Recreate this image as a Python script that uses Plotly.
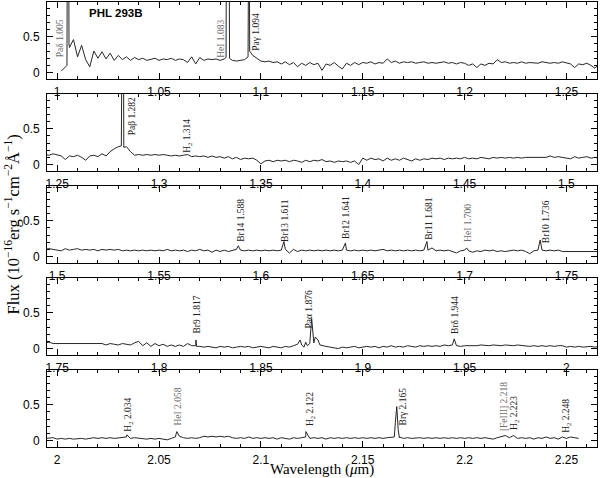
import numpy as np
import plotly.graph_objects as go

# ---------------- data ----------------
step = 0.002  # micron grid spacing of the continuum samples

start_A = 1.002
flux_A = [0.02, 0.08, 0.35, 0.46, 0.22, 0.38, 0.18, 0.08, 0.30, 0.20,
          0.29, 0.19, 0.27, 0.17, 0.24, 0.18, 0.22, 0.17, 0.21, 0.18,
          0.20, 0.17, 0.19, 0.20, 0.17, 0.19, 0.18, 0.20, 0.17, 0.19,
          0.18, 0.14, 0.22, 0.12, 0.21, 0.17, 0.19, 0.18, 0.19, 0.17,
          0.19, 3.00, 0.17, 0.16, 0.17, 0.18, 3.00, 0.24, 0.20, 0.16,
          0.15, 0.16, 0.14, 0.15, 0.12, 0.15, 0.11, 0.14, 0.08, 0.13,
          0.10, 0.14, 0.11, 0.13, 0.03, 0.12, 0.10, 0.14, 0.09, 0.05,
          0.13, 0.10, 0.14, 0.11, 0.14, 0.13, 0.15, 0.12, 0.14, 0.13,
          0.19, 0.14, 0.16, 0.13, 0.15, 0.14, 0.15, 0.13, 0.14, 0.15,
          0.13, 0.14, 0.13, 0.14, 0.15, 0.13, 0.14, 0.12, 0.14, 0.13,
          0.10, 0.12, 0.07, 0.12, 0.10, 0.13, 0.12, 0.18, 0.14, 0.15,
          0.13, 0.14, 0.13, 0.15, 0.13, 0.14, 0.14, 0.13, 0.15, 0.14,
          0.13, 0.14, 0.13, 0.15]

start_B = 1.250
flux_B = [0.14, 0.12, 0.07, 0.12, 0.11, 0.13, 0.10, 0.06, 0.12, 0.13,
          0.11, 0.15, 0.12, 0.18, 0.22, 0.25, 3.00, 0.25, 0.18, 0.13,
          0.14, 0.13, 0.14, 0.13, 0.14, 0.13, 0.14, 0.13, 0.12, 0.13,
          0.12, 0.13, 0.14, 0.11, 0.12, 0.11, 0.12, 0.10, 0.12, 0.10,
          0.11, 0.09, 0.11, 0.08, 0.10, 0.07, 0.09, 0.08, 0.09, 0.06,
          0.01, 0.05, 0.06, 0.04, 0.06, 0.05, 0.06, 0.04, 0.06, 0.05,
          0.03, 0.06, 0.04, 0.06, 0.05, 0.07, 0.04, 0.05, 0.03, 0.05,
          0.04, 0.05, 0.03, 0.05, 0.00, 0.09, 0.06, 0.09, 0.07, 0.08,
          0.05, 0.09, 0.06, 0.08, 0.06, 0.09, 0.07, 0.05, 0.08, 0.06,
          0.08, 0.07, 0.09, 0.08, 0.09, 0.07, 0.09, 0.08, 0.09, 0.08,
          0.10, 0.08, 0.09, 0.08, 0.10, 0.09, 0.08, 0.10, 0.09, 0.10,
          0.09, 0.10, 0.09, 0.10, 0.09, 0.10, 0.10, 0.11, 0.10, 0.11,
          0.10, 0.12, 0.10, 0.11, 0.10]

start_C = 1.500
flux_C = [0.10, 0.08, 0.11, 0.09, 0.10, 0.11, 0.09, 0.10, 0.09, 0.10,
          0.08, 0.10, 0.09, 0.10, 0.09, 0.10, 0.08, 0.09, 0.08, 0.09,
          0.08, 0.09, 0.08, 0.09, 0.08, 0.09, 0.08, 0.10, 0.08, 0.09,
          0.08, 0.09, 0.07, 0.09, 0.08, 0.10, 0.08, 0.09, 0.06, 0.09,
          0.07, 0.09, 0.07, 0.09, 0.10, 0.09, 0.08, 0.09, 0.08, 0.09,
          0.08, 0.09, 0.08, 0.09, 0.08, 0.09, 0.10, 0.05, 0.10, 0.07,
          0.09, 0.08, 0.09, 0.08, 0.09, 0.08, 0.09, 0.08, 0.09, 0.08,
          0.09, 0.09, 0.08, 0.09, 0.08, 0.09, 0.08, 0.09, 0.08, 0.09,
          0.10, 0.08, 0.09, 0.08, 0.09, 0.08, 0.09, 0.08, 0.09, 0.08,
          0.09, 0.09, 0.12, 0.08, 0.09, 0.08, 0.09, 0.07, 0.05, 0.08,
          0.09, 0.08, 0.06, 0.08, 0.07, 0.09, 0.08, 0.09, 0.07, 0.08,
          0.07, 0.08, 0.09, 0.08, 0.09, 0.07, 0.04, 0.08, 0.09, 0.09,
          0.08, 0.09, 0.08, 0.09, 0.07]

start_D = 1.750
flux_D = [0.07, 0.06, 0.07, 0.06, 0.07, 0.07, 0.06, 0.07, 0.06, 0.07,
          0.06, 0.07, 0.05, 0.07, 0.06, 0.05, 0.07, 0.06, 0.05, 0.08,
          0.10, 0.04, 0.08, 0.03, 0.07, 0.04, 0.06, 0.03, 0.05, 0.03,
          0.05, 0.03, 0.07, 0.04, 0.04, 0.03, 0.02, 0.03, 0.02, 0.01,
          0.03, 0.02, 0.03, 0.01, 0.02, 0.03, 0.02, 0.03, 0.01, 0.02,
          0.03, 0.02, 0.01, 0.03, 0.02, 0.01, 0.03, 0.02, 0.04, 0.06,
          0.05, 0.09, 0.07, 0.08, 0.12, 0.04, 0.03, 0.02, 0.01, 0.00,
          0.02, 0.01, 0.02, 0.03, 0.01, 0.02, 0.03, 0.02, 0.03, 0.01,
          0.03, 0.02, 0.04, 0.02, 0.03, 0.02, 0.04, 0.03, 0.02, 0.04,
          0.03, 0.04, 0.03, 0.04, 0.03, 0.05, 0.04, 0.05, 0.04, 0.03,
          0.04, 0.04, 0.03, 0.04, 0.05, 0.04, 0.04, 0.05, 0.04, 0.04,
          0.05, 0.04, 0.04, 0.05, 0.04, 0.04, 0.03, 0.04, 0.03, 0.04,
          0.03, 0.04, 0.03, 0.04, 0.04]

start_E = 2.000
flux_E = [0.02, 0.03, 0.02, 0.03, 0.02, 0.03, 0.03, 0.02, 0.03, 0.04,
          0.03, 0.04, 0.03, 0.04, 0.03, 0.04, 0.04, 0.05, 0.03, 0.04,
          0.03, 0.03, 0.02, 0.03, 0.02, 0.03, 0.02, 0.01, 0.03, 0.05,
          0.06, 0.04, 0.03, 0.04, 0.03, 0.04, 0.06, 0.05, 0.06, 0.05,
          0.06, 0.05, 0.06, 0.04, 0.03, 0.04, 0.03, 0.05, 0.03, 0.04,
          0.03, 0.04, 0.03, 0.04, 0.02, 0.04, 0.03, 0.02, 0.04, 0.03,
          0.04, 0.05, 0.03, 0.04, 0.03, 0.04, 0.02, 0.04, 0.03, 0.04,
          0.03, 0.04, 0.03, 0.04, 0.03, 0.04, 0.03, 0.04, 0.03, 0.04,
          0.03, 0.04, 0.04, 0.25, 0.04, 0.03, 0.04, 0.03, 0.04, 0.04,
          0.03, 0.04, 0.03, 0.04, 0.03, 0.04, 0.03, 0.04, 0.03, 0.04,
          0.03, 0.04, 0.03, 0.04, 0.03, 0.04, 0.03, 0.02, 0.04, 0.05,
          0.07, 0.04, 0.07, 0.03, 0.04, 0.03, 0.04, 0.02, 0.04, 0.03,
          0.05, 0.03, 0.04, 0.02, 0.05, 0.03, 0.05, 0.04, 0.03]

# emission-line samples (wavelength, flux) that sit between grid points
line_wl = [1.0048, 1.0051, 1.0055, 1.0058,
           1.0829, 1.0832, 1.0843, 1.0846,
           1.0937, 1.0939, 1.0942, 1.0945,
           1.2815, 1.2818, 1.2824, 1.2827,
           1.5889, 1.6113, 1.6415, 1.6815, 1.7010, 1.7371,
           1.8176, 1.8181, 1.8185,
           1.8693, 1.8712, 1.8728, 1.8749, 1.8767, 1.8790,
           1.9449, 2.0342, 2.0587, 2.1221,
           2.1655, 2.1667, 2.1674, 2.1680]
line_flux = [0.10, 3.00, 3.00, 0.40,
             0.21, 3.00, 3.00, 0.20,
             0.22, 3.00, 3.00, 0.30,
             0.26, 3.00, 3.00, 0.24,
             0.15, 0.21, 0.19, 0.21, 0.12, 0.23,
             0.04, 0.12, 0.03,
             0.12, 0.02, 0.04, 0.42, 0.16, 0.05,
             0.135, 0.08, 0.125, 0.125,
             0.05, 0.475, 0.15, 0.05]

# panel wavelength windows
panel_lo = [0.995, 1.245, 1.495, 1.745, 1.995]
panel_hi = [1.265, 1.515, 1.765, 2.015, 2.265]

# line identifications: text, wavelength of label centre, flux of label centre, panel
label_text = ["Paδ 1.005", "HeI 1.083", "Paγ 1.094",
              "Paβ 1.282", "H<sub>2</sub> 1.314",
              "Br14 1.588", "Br13 1.611", "Br12 1.641", "Br11 1.681", "HeI 1.700", "Br10 1.736",
              "Br9 1.817", "Paα 1.876", "Brδ 1.944",
              "H<sub>2</sub> 2.034", "HeI 2.058", "H<sub>2</sub> 2.122", "Brγ 2.165",
              "[FeIII] 2.218", "H<sub>2</sub> 2.223", "H<sub>2</sub> 2.248"]
label_wl = [1.0014, 1.0804, 1.0976,
            1.2866, 1.3142,
            1.5901, 1.6118, 1.6418, 1.6825, 1.7017, 1.7403,
            1.8185, 1.8738, 1.9453,
            2.0349, 2.0595, 2.1241, 2.1699, 2.2193, 2.2247, 2.2501]
label_y = [0.48, 0.47, 0.57,
           0.67, 0.40,
           0.51, 0.51, 0.54, 0.54, 0.47, 0.49,
           0.47, 0.55, 0.47,
           0.365, 0.48, 0.44, 0.48, 0.48, 0.385, 0.34]
label_panel = [1, 1, 1, 2, 2, 3, 3, 3, 3, 3, 3, 4, 4, 4, 5, 5, 5, 5, 5, 5, 5]
label_gray = [True, True, False, False, False, False, False, False, False, True, False,
              False, False, False, False, True, False, False, True, False, False]

# ---------------- assemble spectrum ----------------
segs = [(start_A, flux_A), (start_B, flux_B), (start_C, flux_C),
        (start_D, flux_D), (start_E, flux_E)]
wl_all = np.concatenate([s + step * np.arange(len(f)) for s, f in segs] + [np.array(line_wl)])
fl_all = np.concatenate([np.array(f, dtype=float) for _, f in segs] + [np.array(line_flux)])
order = np.argsort(wl_all, kind="stable")
wl_all = wl_all[order]
fl_all = fl_all[order]

# ---------------- figure ----------------
W, H = 600, 478
ml, mr, mt, mb = 47, 3, 2, 31
ph = H - mt - mb
tops = [2, 94, 186, 278, 370]
hgt = 77

fig = go.Figure()
for i in range(5):
    fig.add_trace(go.Scatter(x=wl_all, y=fl_all, mode="lines",
                             line=dict(color="#262626", width=1),
                             xaxis=f"x{i+1}", yaxis=f"y{i+1}",
                             showlegend=False, hoverinfo="skip"))

tickfont = dict(family="Liberation Sans, Arial, sans-serif", size=12, color="black")
layout = dict(width=W, height=H, margin=dict(l=ml, r=mr, t=mt, b=mb),
              paper_bgcolor="white", plot_bgcolor="white", showlegend=False)
for i in range(5):
    top = tops[i]
    bot = top + hgt
    d0 = (H - mb - bot) / ph
    d1 = (H - mb - top) / ph
    layout[f"xaxis{i+1}"] = dict(
        domain=[0, 1], anchor=f"y{i+1}", range=[panel_lo[i], panel_hi[i]],
        tickmode="linear", tick0=0, dtick=0.05, ticks="inside", ticklen=6,
        tickwidth=1, tickcolor="black",
        minor=dict(ticks="inside", dtick=0.01, tick0=0, ticklen=3, tickcolor="black", tickwidth=1),
        showline=True, linecolor="black", linewidth=1, mirror="allticks",
        showgrid=False, zeroline=False, tickfont=tickfont, ticklabelstandoff=2)
    layout[f"yaxis{i+1}"] = dict(
        domain=[d0, d1], anchor=f"x{i+1}", range=[-0.09, 0.985],
        tickmode="linear", tick0=0, dtick=0.5, ticks="inside", ticklen=6,
        tickwidth=1, tickcolor="black",
        minor=dict(ticks="inside", dtick=0.1, tick0=0, ticklen=3, tickcolor="black", tickwidth=1),
        showline=True, linecolor="black", linewidth=1, mirror="allticks",
        showgrid=False, zeroline=False, tickfont=tickfont, ticklabelstandoff=4)
fig.update_layout(**layout)

annos = []
for t, x, y, p, g in zip(label_text, label_wl, label_y, label_panel, label_gray):
    annos.append(dict(text=t, x=x, y=y, xref=f"x{p}", yref=f"y{p}", showarrow=False,
                      textangle=-90, xanchor="center", yanchor="middle",
                      font=dict(family="Liberation Serif, Times New Roman, serif", size=9.5,
                                color="#707070" if g else "#222222")))
annos.append(dict(text="<b>PHL 293B</b>", x=1.0286, y=0.83, xref="x1", yref="y1",
                  showarrow=False, xanchor="center", yanchor="middle",
                  font=dict(family="Liberation Sans, Arial, sans-serif", size=11.5, color="black")))
annos.append(dict(text="Flux (10<sup>−16</sup>erg s<sup>−1</sup>cm<sup>−2</sup>Å<sup>−1</sup>)",
                  x=(13 - ml) / (W - ml - mr), y=0.5, xref="paper", yref="paper",
                  showarrow=False, textangle=-90, xanchor="center", yanchor="middle",
                  font=dict(family="Liberation Serif, Times New Roman, serif", size=16.5, color="black")))
annos.append(dict(text="Wavelength (<i>μ</i>m)", x=0.5, y=-(469 - (H - mb)) / ph,
                  xref="paper", yref="paper", showarrow=False,
                  xanchor="center", yanchor="middle",
                  font=dict(family="Liberation Serif, Times New Roman, serif", size=15, color="black")))
fig.update_layout(annotations=annos)

# remove the browser's default page margin so the 600x478 figure fills the window
fig.write_html("out.html", config={"displayModeBar": False},
               post_script="document.body.style.margin='0px';document.body.style.overflow='hidden';")
